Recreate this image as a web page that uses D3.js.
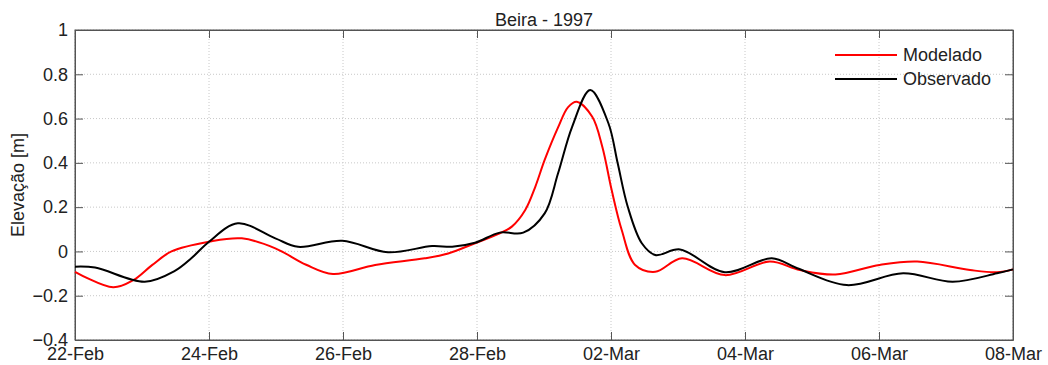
<!DOCTYPE html>
<html>
<head>
<meta charset="utf-8">
<script src="https://cdn.jsdelivr.net/npm/d3@7"></script>
<style>
  body { margin: 0; background: #fff; }
  svg text { font-family: "Liberation Sans", Arial, sans-serif; fill: #222; }
</style>
</head>
<body>
<div id="chart"></div>
<script>
// data: days after 22-Feb-1997, elevation in m
var modDays = [0, 0.57, 0.87, 1.15, 1.44, 2.0, 2.49, 2.99, 3.45, 3.85, 4.48, 5.22, 5.57, 5.97, 6.34, 6.52, 6.72, 6.87, 7.01, 7.21, 7.36, 7.49, 7.72, 7.87, 8.01, 8.16, 8.36, 8.66, 9.06, 9.70, 10.37, 10.82, 11.35, 12.01, 12.57, 13.36, 13.76, 14];
var modelado = [-0.092, -0.162, -0.13, -0.062, 0.0, 0.044, 0.059, 0.014, -0.06, -0.102, -0.061, -0.031, -0.009, 0.037, 0.082, 0.112, 0.187, 0.292, 0.413, 0.56, 0.652, 0.676, 0.608, 0.473, 0.277, 0.097, -0.061, -0.092, -0.031, -0.107, -0.046, -0.084, -0.104, -0.061, -0.046, -0.084, -0.094, -0.081];
var obsDays = [0, 0.3, 1.04, 1.49, 1.74, 2.0, 2.43, 2.99, 3.33, 3.99, 4.67, 5.33, 5.63, 5.97, 6.34, 6.69, 7.01, 7.21, 7.42, 7.69, 7.96, 8.1, 8.25, 8.46, 8.66, 9.03, 9.70, 10.40, 10.78, 11.52, 12.36, 13.1, 13.76, 14];
var observado = [-0.069, -0.073, -0.137, -0.088, -0.03, 0.044, 0.127, 0.059, 0.021, 0.048, -0.004, 0.024, 0.021, 0.039, 0.085, 0.085, 0.172, 0.353, 0.563, 0.729, 0.58, 0.398, 0.202, 0.037, -0.016, 0.009, -0.094, -0.031, -0.076, -0.152, -0.099, -0.137, -0.099, -0.081];
var xTickLabels = ["22-Feb", "24-Feb", "26-Feb", "28-Feb", "02-Mar", "04-Mar", "06-Mar", "08-Mar"];
var yTicks = [-0.4, -0.2, 0, 0.2, 0.4, 0.6, 0.8, 1];

var width = 1048, height = 365;
var margin = {top: 30, right: 35, bottom: 25, left: 75};
var w = width - margin.left - margin.right;
var h = height - margin.top - margin.bottom;

var start = new Date(1997, 1, 22);
function toDate(d) { return new Date(start.getTime() + d * 86400000); }
var xTicks = xTickLabels.map(function (t, i) { return toDate(i * 2); });

var svg = d3.select("#chart").append("svg").attr("width", width).attr("height", height);
var g = svg.append("g").attr("transform", "translate(" + margin.left + "," + margin.top + ")");

var x = d3.scaleTime().domain([toDate(0), toDate(14)]).range([0, w]);
var y = d3.scaleLinear().domain([-0.4, 1]).range([h, 0]);

// grid
g.selectAll(".vgrid").data(xTicks).enter().append("line")
  .attr("x1", function (d) { return x(d); }).attr("x2", function (d) { return x(d); })
  .attr("y1", 0).attr("y2", h)
  .attr("stroke", "#c8c8c8").attr("stroke-dasharray", "1,2");
g.selectAll(".hgrid").data(yTicks).enter().append("line")
  .attr("y1", function (d) { return y(d); }).attr("y2", function (d) { return y(d); })
  .attr("x1", 0).attr("x2", w)
  .attr("stroke", "#c8c8c8").attr("stroke-dasharray", "1,2");

// axes (ticks pointing inward)
var fmtY = function (d) { return d3.format("")(Math.round(d * 10) / 10); };
var xAxis = d3.axisBottom(x).tickValues(xTicks).tickSizeInner(-8).tickSizeOuter(0).tickPadding(7)
  .tickFormat(function (d, i) { return xTickLabels[i]; });
var yAxis = d3.axisLeft(y).tickValues(yTicks).tickSizeInner(-8).tickSizeOuter(0).tickPadding(7).tickFormat(fmtY);

g.append("g").attr("transform", "translate(0," + h + ")").call(xAxis);
g.append("g").call(yAxis);
g.append("g").call(d3.axisTop(x).tickValues(xTicks).tickSizeInner(-8).tickSizeOuter(0).tickFormat(""));
g.append("g").attr("transform", "translate(" + w + ",0)").call(d3.axisRight(y).tickValues(yTicks).tickSizeInner(-8).tickSizeOuter(0).tickFormat(""));
g.selectAll(".domain").attr("stroke", "#555");
g.selectAll(".tick line").attr("stroke", "#555");
g.selectAll(".tick text").style("font-size", "18px").style("fill", "#222");

// frame
g.append("rect").attr("width", w).attr("height", h).attr("fill", "none").attr("stroke", "#555");

// lines
var lineMod = d3.line().x(function (d, i) { return x(toDate(modDays[i])); }).y(function (d) { return y(d); }).curve(d3.curveCatmullRom.alpha(0.5));
var lineObs = d3.line().x(function (d, i) { return x(toDate(obsDays[i])); }).y(function (d) { return y(d); }).curve(d3.curveCatmullRom.alpha(0.5));

g.append("path").datum(modelado).attr("d", lineMod).attr("fill", "none").attr("stroke", "#ff0000").attr("stroke-width", 2);
g.append("path").datum(observado).attr("d", lineObs).attr("fill", "none").attr("stroke", "#000").attr("stroke-width", 2);

// title
svg.append("text").attr("x", margin.left + w / 2).attr("y", 26).attr("text-anchor", "middle")
  .style("font-size", "18px").text("Beira - 1997");

// y label
svg.append("text").attr("transform", "translate(24," + (margin.top + h / 2) + ") rotate(-90)")
  .attr("text-anchor", "middle").style("font-size", "18px").text("Elevação [m]");

// legend
var legend = [["Modelado", "#ff0000"], ["Observado", "#000"]];
legend.forEach(function (l, i) {
  var ly = 55 + i * 24;
  svg.append("line").attr("x1", 835).attr("x2", 897).attr("y1", ly).attr("y2", ly)
    .attr("stroke", l[1]).attr("stroke-width", 2);
  svg.append("text").attr("x", 903).attr("y", ly + 6).style("font-size", "18px").text(l[0]);
});
</script>
</body>
</html>
